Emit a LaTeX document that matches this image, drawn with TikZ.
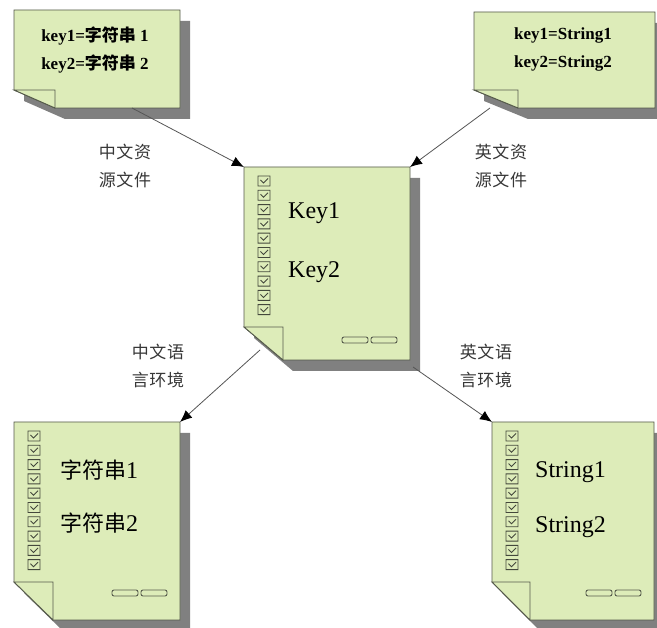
\documentclass[tikz,border=0pt]{standalone}
\usepackage{fontspec}
\setmainfont{Liberation Serif}
\newfontfamily\cjk{Noto Sans CJK SC}
\newfontfamily\cjklabel[LetterSpace=4]{Noto Sans CJK SC}
\usetikzlibrary{arrows.meta, positioning}

\definecolor{sheetgreen}{RGB}{221,236,185}
\definecolor{sheetline}{RGB}{85,90,75}
\definecolor{sheetshade}{RGB}{128,128,128}
\definecolor{linkgray}{RGB}{85,85,85}
\definecolor{labelgray}{RGB}{55,55,55}

\tikzset{
  sheet/.style={rectangle, inner sep=0pt, outer sep=0pt},
  sheetbody/.style={fill=sheetgreen, draw=sheetline, line width=0.9pt, line join=miter},
  sheetshadow/.style={fill=sheetshade},
  tickbox/.style={draw=sheetline!80!black, line width=0.9pt},
  tabbar/.style={draw=sheetline, fill=sheetgreen, line width=0.9pt, rounded corners=2pt},
  pairtext/.style={align=center, inner sep=0pt, font=\bfseries\fontsize{17}{28}\selectfont},
  bigtext/.style={anchor=west, inner sep=0pt, font=\fontsize{24}{28}\selectfont},
  sidenote/.style={align=center, inner sep=0pt, text=labelgray, font=\cjklabel\fontsize{17}{28}\selectfont},
  link/.style={draw=linkgray, line width=0.8pt, -{Latex[length=12pt, width=10pt, color=black]}}
}

% folded sheet: name, left, top, right, bottom, fold width, fold height
\newcommand{\sheet}[7]{%
  \node[sheet, minimum width={(#4-#2)*1pt}, minimum height={(#5-#3)*1pt}] (#1) at ({(#2+#4)/2},{(#3+#5)/2}) {};
  \pgfmathsetmacro\sw{#4-#2}
  \pgfmathsetmacro\sh{#5-#3}
  \begin{scope}[shift={(#2,#3)}]
    \fill[sheetshadow] (10,11) -- +(\sw,0) -- +(\sw,\sh) -- +(#6,\sh) -- +(0,\sh-#7) -- cycle;
    \filldraw[sheetbody] (0,0) -- (\sw,0) -- (\sw,\sh) -- (#6,\sh) -- (0,\sh-#7) -- cycle;
    \filldraw[sheetbody] (0,\sh-#7) -- (#6,\sh-#7) -- (#6,\sh) -- cycle;
  \end{scope}}

% column of ten check boxes down the left side
\newcommand{\ticks}[1]{%
  \begin{scope}[shift={(#1.north west)}]
    \foreach \i in {0,...,9}
      \draw[tickbox] (14,{9+\i*14.3}) rectangle +(12,10)
        (16.5,{13+\i*14.3}) -- +(3,3) -- +(7.5,-1.5);
  \end{scope}}

% two small bars in the lower right corner
\newcommand{\tabs}[2]{%
  \begin{scope}[shift={(#1.south east)}]
    \draw[tabbar] (-68,-#2-3) rectangle +(26,6)
                  (-39,-#2-3) rectangle +(26,6);
  \end{scope}}

\begin{document}
\begin{tikzpicture}[x=1pt, y=-1pt]
  \useasboundingbox (0,0) rectangle (657,628);
  \fill[white] (0,0) rectangle (657,628);

  % resource files
  \sheet{zhsrc}{14}{10}{180}{108}{41}{18}
  \sheet{ensrc}{474}{12}{655}{108}{44}{18}
  \node[pairtext] (zhsrctxt) at (95,50) {key1={\cjk 字符串} 1\\key2={\cjk 字符串} 2};
  \node[pairtext] (ensrctxt) at (563,49) {key1=String1\\key2=String2};

  % keys in the program
  \sheet{keys}{244}{167}{410}{360}{39}{33}
  \ticks{keys}
  \tabs{keys}{20}
  \node[bigtext] (key1) at (288,213) {Key1};
  \node[bigtext] (key2) [below=59pt of key1.west, anchor=west] {Key2};

  % localised results
  \sheet{zhenv}{14}{422}{180}{620}{39}{38}
  \sheet{enenv}{492}{422}{654}{620}{38}{38}
  \ticks{zhenv}
  \ticks{enenv}
  \tabs{zhenv}{27}
  \tabs{enenv}{27}
  \node[bigtext] (zhstr1) at (60,470) {{\cjk\fontsize{22}{28}\selectfont 字符串}1};
  \node[bigtext] (zhstr2) [below=53pt of zhstr1.west, anchor=west] {{\cjk\fontsize{22}{28}\selectfont 字符串}2};
  \node[bigtext] (enstr1) at (535,472) {String1};
  \node[bigtext] (enstr2) [below=55pt of enstr1.west, anchor=west] {String2};

  % side notes
  \node[sidenote] (zhsrclbl) at (125,166) {中文资\\源文件};
  \node[sidenote] (ensrclbl) at (501,166) {英文资\\源文件};
  \node[sidenote] (zhenvlbl) at (158,366) {中文语\\言环境};
  \node[sidenote] (enenvlbl) at (486,366) {英文语\\言环境};

  \path
    ([xshift=118pt]zhsrc.south west) edge[link] (keys.north west)
    ([xshift=16pt]ensrc.south west) edge[link] (keys.north east)
    ([shift={(16pt,10pt)}]keys.south west) edge[link] (zhenv.north east)
    ([shift={(3pt,-7pt)}]keys.south east) edge[link] (enenv.north west);
\end{tikzpicture}
\end{document}
